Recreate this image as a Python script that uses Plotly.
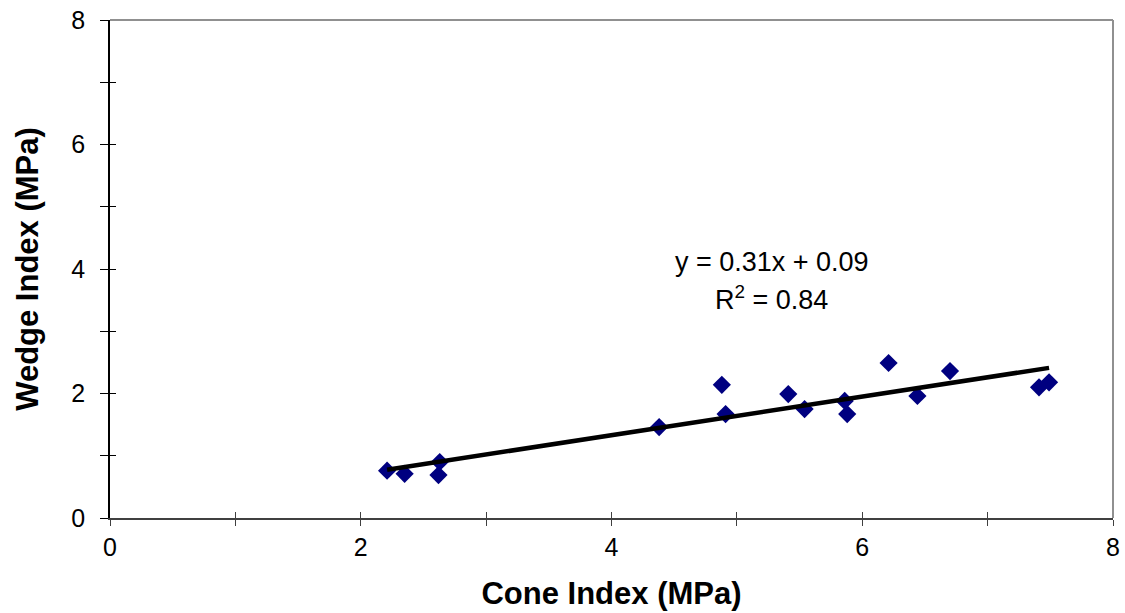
import plotly.graph_objects as go

cone_index = [2.21, 2.35, 2.62, 2.63, 4.38, 4.88, 4.91, 5.41, 5.54, 5.86, 5.88, 6.21, 6.44, 6.70, 7.41, 7.49]
wedge_index = [0.76, 0.71, 0.69, 0.90, 1.46, 2.14, 1.67, 1.99, 1.75, 1.88, 1.67, 2.49, 1.96, 2.36, 2.10, 2.18]
slope = 0.31
intercept = 0.09
x_tick_vals = [0, 2, 4, 6, 8]
x_minor_vals = [1, 3, 5, 7]
y_tick_vals = [0, 2, 4, 6, 8]
y_minor_vals = [1, 3, 5, 7]

fit_x = [min(cone_index), max(cone_index)]
fit_y = [slope * v + intercept for v in fit_x]

fig = go.Figure()
fig.add_trace(go.Scatter(x=cone_index, y=wedge_index, mode="markers",
                         marker=dict(symbol="diamond", size=14, color="#000080"),
                         showlegend=False))
fig.add_trace(go.Scatter(x=fit_x, y=fit_y, mode="lines",
                         line=dict(color="black", width=4.5), showlegend=False))

ann_font = dict(family="Arial", size=27, color="black")
fig.add_annotation(x=5.28, y=4.11, text="y = 0.31x + 0.09", showarrow=False, font=ann_font)
fig.add_annotation(x=5.28, y=3.53, text="R<sup>2</sup> = 0.84", showarrow=False, font=ann_font)

axis_font = dict(family="Arial", size=25, color="black")
title_font = dict(family="Arial", size=31, color="black")
fig.update_layout(
    width=1125, height=613,
    margin=dict(l=110, r=12, t=20, b=95),
    plot_bgcolor="white", paper_bgcolor="white",
    xaxis=dict(range=[0, 8], tickvals=x_tick_vals, automargin=False,
               ticks="outside", ticklen=6, tickcolor="#404040", showgrid=False, zeroline=False,
               minor=dict(tickvals=x_minor_vals, ticks="outside", ticklen=6, tickcolor="#404040", showgrid=False),
               showline=True, linecolor="#404040", linewidth=2, tickfont=axis_font,
               title=dict(text="<b>Cone Index (MPa)</b>", font=title_font, standoff=22)),
    yaxis=dict(range=[0, 8], tickvals=y_tick_vals, automargin=False,
               ticks="outside", ticklen=8, tickcolor="black", showgrid=False, zeroline=False,
               minor=dict(tickvals=y_minor_vals, ticks="outside", ticklen=8, tickcolor="black", showgrid=False),
               showline=True, linecolor="black", linewidth=1.5, tickfont=axis_font,
               ticklabelstandoff=10,
               title=dict(text="<b>Wedge Index (MPa)</b>", font=title_font, standoff=23)),
    xaxis2=dict(range=[0, 8], tickvals=x_tick_vals, overlaying="x", anchor="y", side="bottom",
                ticks="inside", ticklen=6, tickcolor="#404040", showticklabels=False,
                minor=dict(tickvals=x_minor_vals, ticks="inside", ticklen=6, tickcolor="#404040", showgrid=False),
                showgrid=False, zeroline=False, showline=False),
    yaxis2=dict(range=[0, 8], tickvals=y_tick_vals, overlaying="y", anchor="x", side="left",
                ticks="inside", ticklen=6, tickcolor="black", showticklabels=False,
                minor=dict(tickvals=y_minor_vals, ticks="inside", ticklen=6, tickcolor="black", showgrid=False),
                showgrid=False, zeroline=False, showline=False),
    shapes=[
        dict(type="line", xref="paper", yref="paper", x0=0, x1=1, y0=1, y1=1,
             line=dict(color="#909090", width=2)),
        dict(type="line", xref="paper", yref="paper", x0=1, x1=1, y0=0, y1=1,
             line=dict(color="#909090", width=2)),
    ],
)
fig.add_trace(go.Scatter(x=[None], y=[None], xaxis="x2", yaxis="y2", showlegend=False, hoverinfo="skip"))

fig.write_html("out.html", config={"displayModeBar": False},
               post_script="document.body.style.margin='0px';")
